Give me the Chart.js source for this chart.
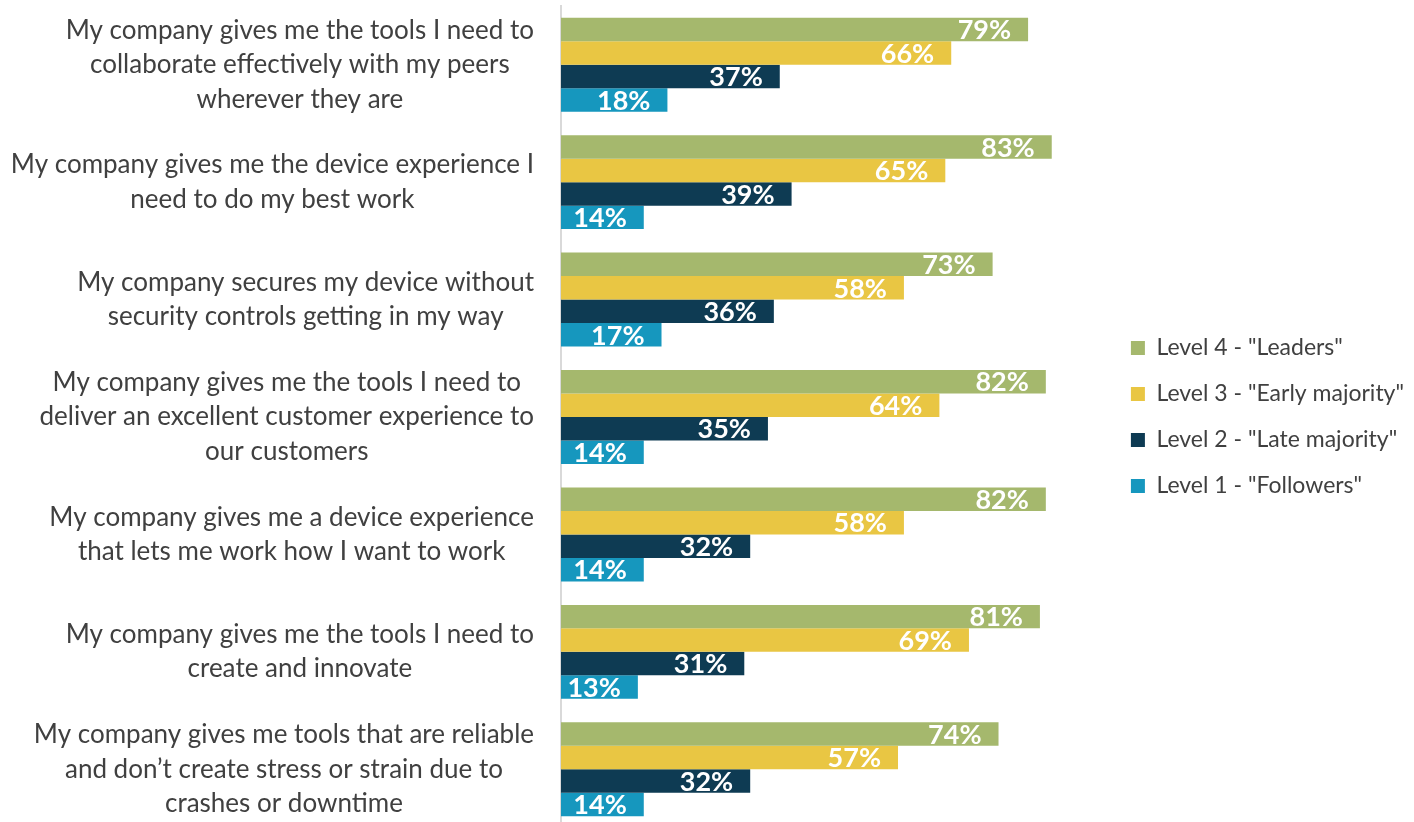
<!DOCTYPE html>
<html>
<head>
<meta charset="utf-8">
<script src="https://cdn.jsdelivr.net/npm/chart.js@4/dist/chart.umd.min.js"></script>
<style>
  html, body { margin: 0; padding: 0; background: #fff; overflow: hidden; }
  #wrap { width: 1414px; height: 822px; overflow: hidden; }
</style>
</head>
<body>
<div id="wrap"><canvas id="graph" width="1414" height="828"></canvas></div>
<script>
// Statements (one array of lines per category)
const categories = [
  ["My company gives me the tools I need to", "collaborate effectively with my peers", "wherever they are"],
  ["My company gives me the device experience I", "need to do my best work"],
  ["My company secures my device without", "security controls getting in my way"],
  ["My company gives me the tools I need to", "deliver an excellent customer experience to", "our customers"],
  ["My company gives me a device experience", "that lets me work how I want to work"],
  ["My company gives me the tools I need to", "create and innovate"],
  ["My company gives me tools that are reliable", "and don\u2019t create stress or strain due to", "crashes or downtime"]
];

const seriesNames = ['Level 4 - "Leaders"', 'Level 3 - "Early majority"', 'Level 2 - "Late majority"', 'Level 1 - "Followers"'];
const level4 = [79, 83, 73, 82, 82, 81, 74];
const level3 = [66, 65, 58, 64, 58, 69, 57];
const level2 = [37, 39, 36, 35, 32, 31, 32];
const level1 = [18, 14, 17, 14, 14, 13, 14];
const couleurs = ['#A5B86D', '#E9C643', '#0E3B53', '#1697BE'];

const police = 'Lato';
const gris = '#404040';

// Libellés de catégorie : chaque bloc est centré sur lui-même, aligné à droite
const blocLabels = {
  id: 'blocLabels',
  afterDraw(chart) {
    const ctx = chart.ctx;
    const y = chart.scales.y;
    const droite = 534;
    const interligne = 34.5;
    ctx.save();
    ctx.font = '26px ' + police;
    ctx.fillStyle = gris;
    ctx.textAlign = 'center';
    ctx.textBaseline = 'middle';
    categories.forEach((lignes, i) => {
      const largeur = Math.max(...lignes.map(l => ctx.measureText(l).width));
      const cx = droite - largeur / 2;
      const cy = y.getPixelForTick(i);
      lignes.forEach((l, j) => {
        ctx.fillText(l, cx, cy + (j - (lignes.length - 1) / 2) * interligne);
      });
    });
    ctx.restore();
  }
};

// Valeurs en blanc à l'intérieur de la fin de chaque barre
const valeurs = {
  id: 'valeurs',
  afterDatasetsDraw(chart) {
    const ctx = chart.ctx;
    ctx.save();
    ctx.font = 'bold 27px ' + police;
    ctx.fillStyle = '#ffffff';
    ctx.textAlign = 'right';
    ctx.textBaseline = 'middle';
    chart.data.datasets.forEach((ds, d) => {
      chart.getDatasetMeta(d).data.forEach((barre, i) => {
        ctx.fillText(ds.data[i] + '%', barre.x - 17, barre.y + 1);
      });
    });
    ctx.restore();
  }
};

const ctx = document.getElementById('graph').getContext('2d');
new Chart(ctx, {
  type: 'bar',
  data: {
    labels: categories,
    datasets: [
      { label: seriesNames[0], data: level4, backgroundColor: couleurs[0] },
      { label: seriesNames[1], data: level3, backgroundColor: couleurs[1] },
      { label: seriesNames[2], data: level2, backgroundColor: couleurs[2] },
      { label: seriesNames[3], data: level1, backgroundColor: couleurs[3] }
    ]
  },
  options: {
    indexAxis: 'y',
    responsive: false,
    animation: false,
    datasets: {
      bar: { categoryPercentage: 0.8, barPercentage: 1.0, borderWidth: 0 }
    },
    layout: { padding: { top: 6, left: 0, right: 0, bottom: 0 } },
    plugins: {
      tooltip: { enabled: false },
      legend: {
        position: 'right',
        labels: {
          color: gris,
          boxWidth: 14,
          boxHeight: 14,
          padding: 23,
          font: { family: police, size: 23 }
        }
      }
    },
    scales: {
      x: { display: false, min: 0, max: 92.5 },
      y: {
        afterFit: (scale) => { scale.width = 561; },
        ticks: { display: false },
        grid: { display: false },
        border: { display: true, color: '#D9D9D9', width: 2 }
      }
    }
  },
  plugins: [blocLabels, valeurs]
});
</script>
</body>
</html>
